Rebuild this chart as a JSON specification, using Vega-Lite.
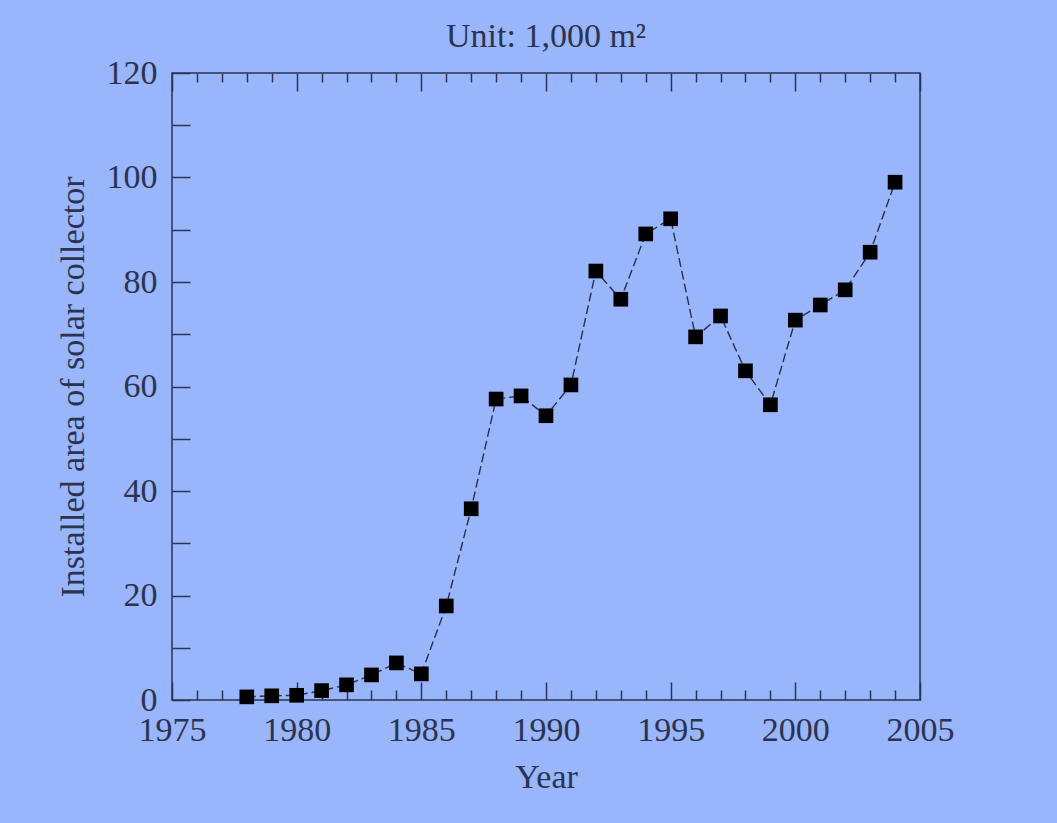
{
  "$schema": "https://vega.github.io/schema/vega-lite/v6.json",
  "width": 748,
  "height": 627,
  "autosize": {"type": "none"},
  "padding": {"left": 172, "top": 73, "right": 137, "bottom": 123},
  "background": "#99b5fb",
  "config": {
    "view": {"stroke": "#2b3450", "strokeWidth": 1.5},
    "font": "Liberation Serif",
    "axis": {
      "domain": false,
      "grid": false,
      "labelFont": "Liberation Serif",
      "labelFontSize": 34,
      "labelColor": "#2b3350",
      "titleFont": "Liberation Serif",
      "titleFontSize": 34,
      "titleFontWeight": "normal",
      "titleColor": "#2b3350",
      "tickColor": "#2b3450",
      "tickWidth": 1.5,
      "labelOverlap": false,
      "labelFlush": false
    }
  },
  "title": {
    "text": "Unit: 1,000 m²",
    "font": "Liberation Serif",
    "fontSize": 34,
    "fontWeight": "normal",
    "color": "#2b3350",
    "anchor": "middle",
    "offset": 2
  },
  "data": {
    "values": [
      {"year": 1978, "area": 0.6},
      {"year": 1979, "area": 0.8},
      {"year": 1980, "area": 0.9},
      {"year": 1981, "area": 1.8},
      {"year": 1982, "area": 2.9},
      {"year": 1983, "area": 4.8},
      {"year": 1984, "area": 7.1},
      {"year": 1985, "area": 5.0},
      {"year": 1986, "area": 18.0},
      {"year": 1987, "area": 36.6},
      {"year": 1988, "area": 57.6},
      {"year": 1989, "area": 58.2},
      {"year": 1990, "area": 54.4},
      {"year": 1991, "area": 60.3},
      {"year": 1992, "area": 82.1},
      {"year": 1993, "area": 76.7},
      {"year": 1994, "area": 89.2},
      {"year": 1995, "area": 92.1},
      {"year": 1996, "area": 69.5},
      {"year": 1997, "area": 73.5},
      {"year": 1998, "area": 63.0},
      {"year": 1999, "area": 56.5},
      {"year": 2000, "area": 72.7},
      {"year": 2001, "area": 75.6},
      {"year": 2002, "area": 78.5},
      {"year": 2003, "area": 85.7},
      {"year": 2004, "area": 99.1}
    ]
  },
  "layer": [
    {
      "mark": {"type": "line", "color": "#28314a", "strokeWidth": 1.4, "strokeDash": [9, 4]},
      "encoding": {
        "x": {
          "field": "year",
          "type": "quantitative",
          "scale": {"domain": [1975, 2005], "nice": false, "zero": false},
          "axis": {
            "orient": "bottom",
            "title": "Year",
            "values": [1975, 1976, 1977, 1978, 1979, 1980, 1981, 1982, 1983, 1984, 1985, 1986, 1987, 1988, 1989, 1990, 1991, 1992, 1993, 1994, 1995, 1996, 1997, 1998, 1999, 2000, 2001, 2002, 2003, 2004, 2005],
            "format": "d",
            "labelExpr": "datum.value % 5 === 0 ? datum.label : ''",
            "tickSize": {"condition": {"test": "datum.value % 5 === 0", "value": -18}, "value": -10},
            "labelPadding": 31,
            "titlePadding": 5
          }
        },
        "y": {
          "field": "area",
          "type": "quantitative",
          "scale": {"domain": [0, 120], "nice": false},
          "axis": {
            "orient": "left",
            "title": "Installed area of solar collector",
            "values": [0, 10, 20, 30, 40, 50, 60, 70, 80, 90, 100, 110, 120],
            "labelExpr": "datum.value % 20 === 0 ? datum.label : ''",
            "tickSize": -18,
            "labelPadding": 33,
            "titlePadding": 16
          }
        }
      }
    },
    {
      "mark": {"type": "point", "shape": "square", "filled": true, "color": "#000000", "opacity": 1, "size": 215},
      "encoding": {
        "x": {
          "field": "year",
          "type": "quantitative",
          "axis": {
            "orient": "top",
            "title": null,
            "labels": false,
            "values": [1975, 1976, 1977, 1978, 1979, 1980, 1981, 1982, 1983, 1984, 1985, 1986, 1987, 1988, 1989, 1990, 1991, 1992, 1993, 1994, 1995, 1996, 1997, 1998, 1999, 2000, 2001, 2002, 2003, 2004, 2005],
            "tickSize": {"condition": {"test": "datum.value % 5 === 0", "value": -18}, "value": -9}
          }
        },
        "y": {"field": "area", "type": "quantitative", "axis": null}
      }
    }
  ],
  "resolve": {"axis": {"x": "independent", "y": "independent"}}
}
